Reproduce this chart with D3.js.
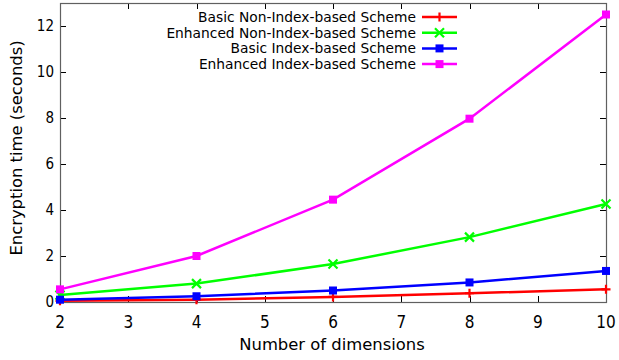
<!DOCTYPE html>
<html><head><meta charset="utf-8">
<script src="https://cdn.jsdelivr.net/npm/d3@7"></script>
<style>body{margin:0;background:#fff}</style>
</head><body>
<svg id="c" width="619" height="360"></svg>
<script>
const dims = [2, 4, 6, 8, 10];
const basicNonIndex = [0.05, 0.10, 0.22, 0.38, 0.55];
const enhancedNonIndex = [0.30, 0.80, 1.65, 2.82, 4.26];
const basicIndex = [0.10, 0.25, 0.50, 0.85, 1.35];
const enhancedIndex = [0.55, 2.00, 4.45, 7.97, 12.50];
const seriesNames = ["Basic Non-Index-based Scheme","Enhanced Non-Index-based Scheme","Basic Index-based Scheme","Enhanced Index-based Scheme"];
const seriesColors = ["#ff0000","#00ff00","#0000ff","#ff00ff"];
const seriesMarkers = ["plus","cross","square","square"];
const xTicks = [2,3,4,5,6,7,8,9,10];
const yTicks = [0,2,4,6,8,10,12];
const seriesValues = [basicNonIndex, enhancedNonIndex, basicIndex, enhancedIndex];

const svg = d3.select("#c");
const L=60, R=606, T=3, B=302;
const x = d3.scaleLinear().domain([2,10]).range([L,R]);
const y = d3.scaleLinear().domain([0,13]).range([B,T]);
const font = "'DejaVu Sans', sans-serif";
const fontC = "'DejaVu Sans Condensed', 'DejaVu Sans', sans-serif";

// ticks (inward, mirrored)
const tl = 6;
const g = svg.append("g").attr("stroke","#000").attr("stroke-width",1);
xTicks.forEach(t=>{
  const px = Math.round(x(t))+0.5;
  g.append("line").attr("x1",px).attr("x2",px).attr("y1",B).attr("y2",B-tl);
  g.append("line").attr("x1",px).attr("x2",px).attr("y1",T).attr("y2",T+tl);
});
yTicks.forEach(t=>{
  const py = Math.round(y(t))+0.5;
  g.append("line").attr("x1",L).attr("x2",L+tl).attr("y1",py).attr("y2",py);
  g.append("line").attr("x1",R).attr("x2",R-tl).attr("y1",py).attr("y2",py);
});
svg.append("rect").attr("x",L+0.5).attr("y",T+0.5).attr("width",R-L).attr("height",B-T)
  .attr("fill","none").attr("stroke","#606060").attr("stroke-width",1.2);

// tick labels
xTicks.forEach(t=>{
  svg.append("text").attr("x",x(t)).attr("y",328).attr("text-anchor","middle")
    .attr("font-family",fontC).attr("font-size",17).attr("fill","#000").text(t);
});
yTicks.forEach(t=>{
  svg.append("text").attr("x",L-6).attr("y",y(t)+5).attr("text-anchor","end")
    .attr("font-family",fontC).attr("font-size",15).attr("fill","#000").text(t);
});
svg.append("text").attr("x",332).attr("y",350).attr("text-anchor","middle")
  .attr("font-family",font).attr("font-size",16.4).attr("fill","#000").text("Number of dimensions");
svg.append("text").attr("transform","translate(22,148) rotate(-90)").attr("text-anchor","middle")
  .attr("font-family",font).attr("font-size",16.4).attr("fill","#000").text("Encryption time (seconds)");

function marker(sel, type, cx, cy, color){
  const s=4.5;
  if(type==="plus"){
    sel.append("path").attr("d",`M${cx-s},${cy}H${cx+s}M${cx},${cy-s}V${cy+s}`).attr("stroke",color).attr("stroke-width",2.2).attr("fill","none");
  } else if(type==="cross"){
    sel.append("path").attr("d",`M${cx-s},${cy-s}L${cx+s},${cy+s}M${cx-s},${cy+s}L${cx+s},${cy-s}`).attr("stroke",color).attr("stroke-width",2.2).attr("fill","none");
  } else {
    sel.append("rect").attr("x",cx-4).attr("y",cy-4).attr("width",8).attr("height",8).attr("fill",color);
  }
}

const line = d3.line().x((d,i)=>x(dims[i])).y(d=>y(d));
const plot = svg.append("g");
seriesValues.forEach((vals,k)=>{
  plot.append("path").datum(vals).attr("d",line).attr("fill","none")
    .attr("stroke",seriesColors[k]).attr("stroke-width",2.5);
  vals.forEach((v,i)=>marker(plot, seriesMarkers[k], x(dims[i]), y(v), seriesColors[k]));
});

// legend
seriesNames.forEach((n,k)=>{
  const ly = 17 + k*15.7;
  svg.append("text").attr("x",416).attr("y",ly+5).attr("text-anchor","end")
    .attr("font-family",font).attr("font-size",13.8).attr("fill","#000").text(n);
  svg.append("line").attr("x1",422).attr("x2",457).attr("y1",ly).attr("y2",ly)
    .attr("stroke",seriesColors[k]).attr("stroke-width",2.5);
  marker(svg, seriesMarkers[k], 439.5, ly, seriesColors[k]);
});
</script>
</body></html>
